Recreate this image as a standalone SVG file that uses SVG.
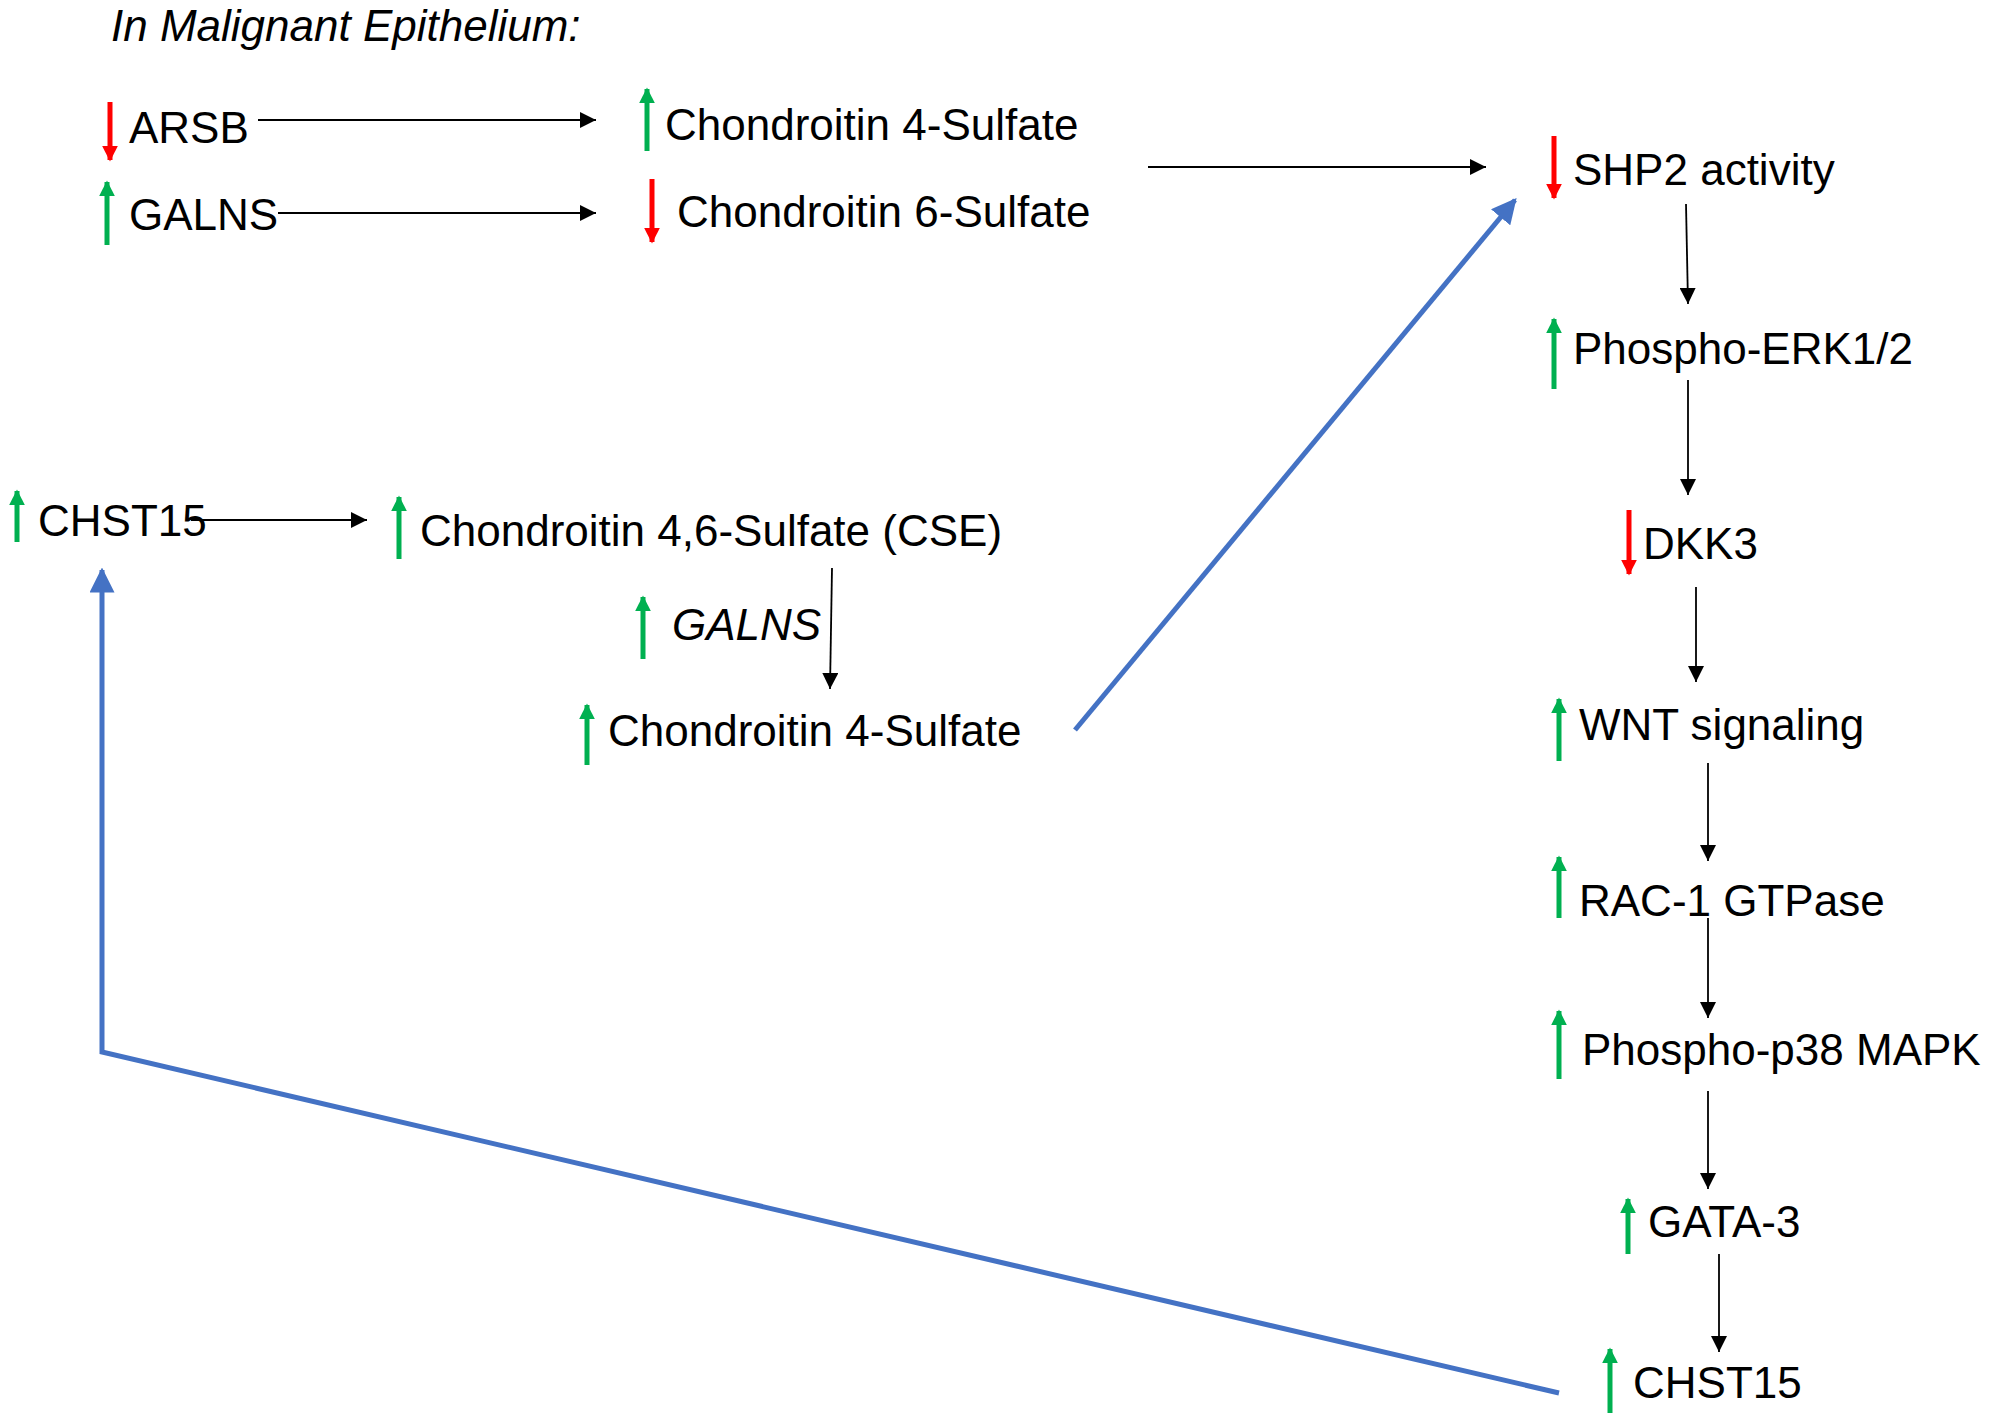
<svg xmlns="http://www.w3.org/2000/svg" width="2000" height="1420" viewBox="0 0 2000 1420">
<defs>
<style>
text{font-family:"Liberation Sans",Arial,sans-serif;font-size:44px;fill:#000}
.it{font-style:italic}
.c{stroke:#000;stroke-width:1.8;fill:none}
.b{stroke:#4472C4;stroke-width:5;fill:none}
.up{stroke:#00B050;stroke-width:5}
.dn{stroke:#FF0000;stroke-width:5}
</style>
<marker id="ah" viewBox="0 0 10 10" refX="10" refY="5" markerWidth="9" markerHeight="9" orient="auto"><path d="M0,0 L10,5 L0,10 z" fill="#000"/></marker>
<marker id="bh" viewBox="0 0 10 10" refX="9" refY="5" markerWidth="5" markerHeight="5" orient="auto"><path d="M0,0 L10,5 L0,10 z" fill="#4472C4"/></marker>
<marker id="gh" viewBox="0 0 10 10" refX="9" refY="5" markerWidth="3.2" markerHeight="3.2" orient="auto"><path d="M0,0 L10,5 L0,10 z" fill="#00B050"/></marker>
<marker id="rh" viewBox="0 0 10 10" refX="9" refY="5" markerWidth="3.2" markerHeight="3.2" orient="auto"><path d="M0,0 L10,5 L0,10 z" fill="#FF0000"/></marker>
</defs>
<text class="it" x="111" y="41" font-size="38">In Malignant Epithelium:</text>

<g id="arsb"><line class="dn" x1="110" y1="102" x2="110" y2="160" marker-end="url(#rh)"/><text x="129" y="143">ARSB</text></g>
<g id="galns1"><line class="up" x1="107" y1="245" x2="107" y2="182" marker-end="url(#gh)"/><text x="129" y="230">GALNS</text></g>
<g id="c4s1"><line class="up" x1="647" y1="151" x2="647" y2="89" marker-end="url(#gh)"/><text x="665" y="140">Chondroitin 4-Sulfate</text></g>
<g id="c6s"><line class="dn" x1="652" y1="179" x2="652" y2="242" marker-end="url(#rh)"/><text x="677" y="227">Chondroitin 6-Sulfate</text></g>
<g id="shp2"><line class="dn" x1="1554" y1="136" x2="1554" y2="198" marker-end="url(#rh)"/><text x="1573" y="185">SHP2 activity</text></g>
<g id="erk"><line class="up" x1="1554" y1="389" x2="1554" y2="319" marker-end="url(#gh)"/><text x="1573" y="364">Phospho-ERK1/2</text></g>
<g id="dkk3"><line class="dn" x1="1629" y1="510" x2="1629" y2="574" marker-end="url(#rh)"/><text x="1643" y="559">DKK3</text></g>
<g id="wnt"><line class="up" x1="1559" y1="761" x2="1559" y2="699" marker-end="url(#gh)"/><text x="1579" y="740">WNT signaling</text></g>
<g id="rac1"><line class="up" x1="1559" y1="918" x2="1559" y2="857" marker-end="url(#gh)"/><text x="1579" y="916">RAC-1 GTPase</text></g>
<g id="p38"><line class="up" x1="1559" y1="1079" x2="1559" y2="1011" marker-end="url(#gh)"/><text x="1582" y="1065">Phospho-p38 MAPK</text></g>
<g id="gata3"><line class="up" x1="1628" y1="1254" x2="1628" y2="1199" marker-end="url(#gh)"/><text x="1648" y="1237">GATA-3</text></g>
<g id="chst15b"><line class="up" x1="1610" y1="1413" x2="1610" y2="1349" marker-end="url(#gh)"/><text x="1633" y="1398">CHST15</text></g>
<g id="chst15a"><line class="up" x1="17" y1="542" x2="17" y2="491" marker-end="url(#gh)"/><text x="38" y="536">CHST15</text></g>
<g id="cse"><line class="up" x1="399" y1="559" x2="399" y2="497" marker-end="url(#gh)"/><text x="420" y="546">Chondroitin 4,6-Sulfate (CSE)</text></g>
<g id="galns2"><line class="up" x1="643" y1="659" x2="643" y2="597" marker-end="url(#gh)"/><text class="it" x="672" y="640">GALNS</text></g>
<g id="c4s2"><line class="up" x1="587" y1="765" x2="587" y2="705" marker-end="url(#gh)"/><text x="608" y="746">Chondroitin 4-Sulfate</text></g>

<g id="connectors">
<line class="c" x1="258" y1="120" x2="596" y2="120" marker-end="url(#ah)"/>
<line class="c" x1="278" y1="213" x2="596" y2="213" marker-end="url(#ah)"/>
<line class="c" x1="1148" y1="167" x2="1486" y2="167" marker-end="url(#ah)"/>
<line class="c" x1="1686" y1="204" x2="1688" y2="304" marker-end="url(#ah)"/>
<line class="c" x1="1688" y1="380" x2="1688" y2="495" marker-end="url(#ah)"/>
<line class="c" x1="1696" y1="587" x2="1696" y2="682" marker-end="url(#ah)"/>
<line class="c" x1="1708" y1="763" x2="1708" y2="861" marker-end="url(#ah)"/>
<line class="c" x1="1708" y1="918" x2="1708" y2="1018" marker-end="url(#ah)"/>
<line class="c" x1="1708" y1="1091" x2="1708" y2="1189" marker-end="url(#ah)"/>
<line class="c" x1="1719" y1="1254" x2="1719" y2="1352" marker-end="url(#ah)"/>
<line class="c" x1="191" y1="520" x2="367" y2="520" marker-end="url(#ah)"/>
<line class="c" x1="832" y1="568" x2="830" y2="689" marker-end="url(#ah)"/>
<line class="b" x1="1075" y1="730" x2="1515" y2="200" marker-end="url(#bh)"/>
<polyline class="b" points="1559,1393 102,1052 102,570" marker-end="url(#bh)"/>
</g>
</svg>
